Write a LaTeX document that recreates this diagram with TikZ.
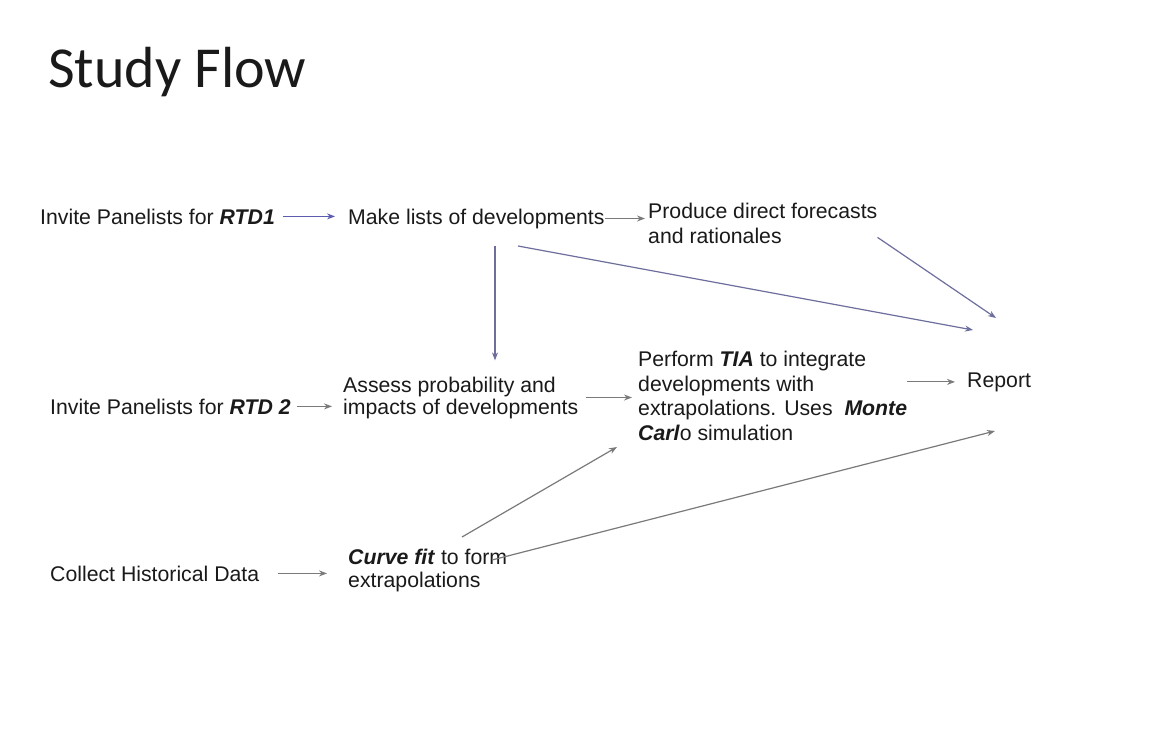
\documentclass[tikz,border=0pt]{standalone}
\usepackage{fontspec}
\setmainfont{Liberation Sans}
\newfontfamily\titlefont{Carlito}
\usetikzlibrary{arrows.meta,calc}
\definecolor{txtc}{HTML}{1A1A1A}
\definecolor{bluea}{HTML}{5C5CB0}
\definecolor{blueg}{HTML}{6E6E9E}
\definecolor{graya}{HTML}{7A7A7A}
\begin{document}
\begin{tikzpicture}[x=1pt,y=-1pt,
  txt/.style={anchor=base west,inner sep=0pt,font=\fontsize{21.25}{24.5}\selectfont,text=txtc,align=left},
  arr/.style={draw=graya,line width=1.2pt,-{Stealth[length=8pt,width=6pt]}},
  barr/.style={arr,draw=bluea},
  gbarr/.style={arr,draw=blueg}]
\fill[white] (0,0) rectangle (1158,730);
\useasboundingbox (0,0) rectangle (1158,730);

\node[anchor=base west,inner sep=0pt,font=\titlefont\fontsize{58}{60}\selectfont,text=txtc] (title) at (48,88) {Study Flow};

\node[txt] (rtd1) at (40,224) {Invite Panelists for \textbf{\textit{RTD1}}};
\node[txt] (make) at (348,224) {Make lists of developments};
\node[txt] (prod) at (648,243) {Produce direct forecasts\\and rationales};
\node[txt] (rtd2) at (50,414) {Invite Panelists for \textbf{\textit{RTD 2}}};
\node[txt,font=\fontsize{21.25}{22}\selectfont] (assess) at (343,414) {Assess probability and\\impacts of developments};
\node[txt] (tia) at (638,440) {Perform \textbf{\textit{TIA}} to integrate\\developments with\\extrapolations. Uses\ \ \textbf{\textit{Monte}}\\\textbf{\textit{Carl}}o simulation};
\node[txt] (report) at (967,387) {Report};
\node[txt] (collect) at (50,581) {Collect Historical Data};
\node[txt,font=\fontsize{21.25}{23}\selectfont] (curve) at (348,587) {\textbf{\textit{Curve fit}} to form\\extrapolations};

\coordinate (r1) at (996,318);
\coordinate (r2) at (973,330);
\coordinate (r3) at (995,431);
\coordinate (m4) at (518,246);
\coordinate (m5) at (495,246);
\coordinate (c1) at (462,537);
\coordinate (c2) at (492,560);
\coordinate (t1) at (617,447);

\draw[barr,shorten <=8pt,shorten >=13pt] (rtd1.east) -- (rtd1.east -| make.west);
\draw[arr,shorten >=3pt] (make.east) -- (make.east -| prod.west);
\draw[gbarr] ($(prod.south east)+(0,-6)$) -- (r1);
\draw[gbarr] (m4) -- (r2);
\draw[gbarr,shorten >=16pt] (m5) -- (m5 |- assess.north);
\draw[arr,shorten <=6pt,shorten >=11pt] (rtd2.east) -- (rtd2.east -| assess.west);
\draw[arr,shorten <=8pt,shorten >=6pt] (assess.east) -- (assess.east -| tia.west);
\draw[arr,shorten >=12pt] (report.west -| tia.east) -- (report.west);
\draw[arr,shorten <=19pt,shorten >=21pt] (collect.east) -- (collect.east -| curve.west);
\draw[arr] (c1) -- (t1);
\draw[arr] (c2) -- (r3);
\end{tikzpicture}
\end{document}
